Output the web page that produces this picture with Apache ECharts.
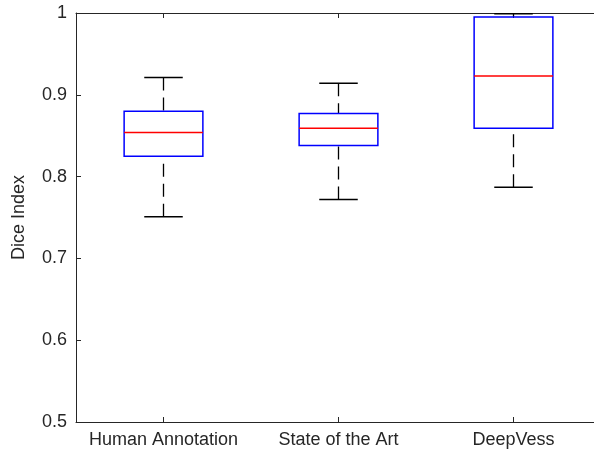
<!DOCTYPE html>
<html>
<head>
<meta charset="utf-8">
<script src="https://cdn.jsdelivr.net/npm/echarts@6/dist/echarts.min.js"></script>
<style>
  html, body { margin: 0; padding: 0; background: #fff; }
  #main { width: 594px; height: 449px; }
</style>
</head>
<body>
<div id="main"></div>
<script>
var categories = ['Human Annotation', 'State of the Art', 'DeepVess'];
var lowerWhisker = [0.751, 0.772, 0.787];
var q1 = [0.825, 0.838, 0.859];
var median = [0.854, 0.859, 0.923];
var q3 = [0.880, 0.877, 0.995];
var upperWhisker = [0.921, 0.914, 0.999];
var yTicks = [0.5, 0.6, 0.7, 0.8, 0.9, 1];

var positions = categories.map(function (c, i) { return i; });
var boxData = categories.map(function (c, i) {
    return [i, lowerWhisker[i], q1[i], median[i], q3[i], upperWhisker[i]];
});

function renderBox(params, api) {
    var i = api.value(0);
    var unit = api.size([1, 0])[0];
    var half = unit * 0.225;
    var capHalf = unit * 0.11;
    var lo = api.coord([i, api.value(1)]);
    var b1 = api.coord([i, api.value(2)]);
    var md = api.coord([i, api.value(3)]);
    var b3 = api.coord([i, api.value(4)]);
    var hi = api.coord([i, api.value(5)]);
    var x = lo[0];
    var dash = { stroke: '#000', lineWidth: 1.3, lineDash: [13, 7] };
    var solid = { stroke: '#000', lineWidth: 1.5 };
    return {
        type: 'group',
        children: [
            { type: 'line', shape: { x1: x, y1: hi[1], x2: x, y2: b3[1] }, style: dash },
            { type: 'line', shape: { x1: x, y1: lo[1], x2: x, y2: b1[1] }, style: dash },
            { type: 'line', shape: { x1: x - capHalf, y1: hi[1], x2: x + capHalf, y2: hi[1] }, style: solid },
            { type: 'line', shape: { x1: x - capHalf, y1: lo[1], x2: x + capHalf, y2: lo[1] }, style: solid },
            { type: 'rect', shape: { x: x - half, y: b3[1], width: half * 2, height: b1[1] - b3[1] },
              style: { fill: 'none', stroke: '#0000ff', lineWidth: 1.5 } },
            { type: 'line', shape: { x1: x - half, y1: md[1], x2: x + half, y2: md[1] },
              style: { stroke: '#ff0000', lineWidth: 1.5 } }
        ]
    };
}

var myChart = echarts.init(document.getElementById('main'));
var axisColor = '#262626';
var font = 'Liberation Sans, Arial, Helvetica, sans-serif';

// x runs from 0.5 before the first box; the right end (3.5) falls just past the image edge
var xAxisBase = {
    type: 'value',
    min: -0.5,
    max: 2.46,
    axisLine: { onZero: false, lineStyle: { color: axisColor, width: 1 } },
    axisTick: { inside: true, length: 5, customValues: positions, lineStyle: { color: axisColor } },
    splitLine: { show: false }
};

option = {
    animation: false,
    backgroundColor: '#fff',
    grid: { left: 76, top: 13, right: 0, bottom: 26.5, containLabel: false },
    xAxis: [
        echarts.util.merge({
            position: 'bottom',
            axisLabel: {
                color: axisColor, fontSize: 18, fontFamily: font, margin: 9,
                customValues: positions,
                formatter: function (v) { return categories[Math.round(v)]; }
            }
        }, xAxisBase, false),
        echarts.util.merge({
            position: 'top',
            axisLabel: { show: false }
        }, xAxisBase, false)
    ],
    yAxis: {
        type: 'value',
        min: 0.5,
        max: 1,
        interval: 0.1,
        position: 'left',
        name: 'Dice Index',
        nameLocation: 'middle',
        nameGap: 48,
        nameTextStyle: { color: axisColor, fontSize: 18, fontFamily: font },
        axisLine: { show: true, onZero: false, lineStyle: { color: axisColor, width: 1 } },
        axisTick: { show: true, inside: true, length: 5, lineStyle: { color: axisColor } },
        axisLabel: {
            color: axisColor, fontSize: 18, fontFamily: font, margin: 9,
            customValues: yTicks,
            formatter: function (v) { return v === 1 ? '1' : v.toFixed(1); }
        },
        splitLine: { show: false }
    },
    series: [{
        type: 'custom',
        renderItem: renderBox,
        encode: { x: 0, y: [1, 2, 3, 4, 5] },
        data: boxData,
        clip: false
    }]
};

myChart.setOption(option);
</script>
</body>
</html>
